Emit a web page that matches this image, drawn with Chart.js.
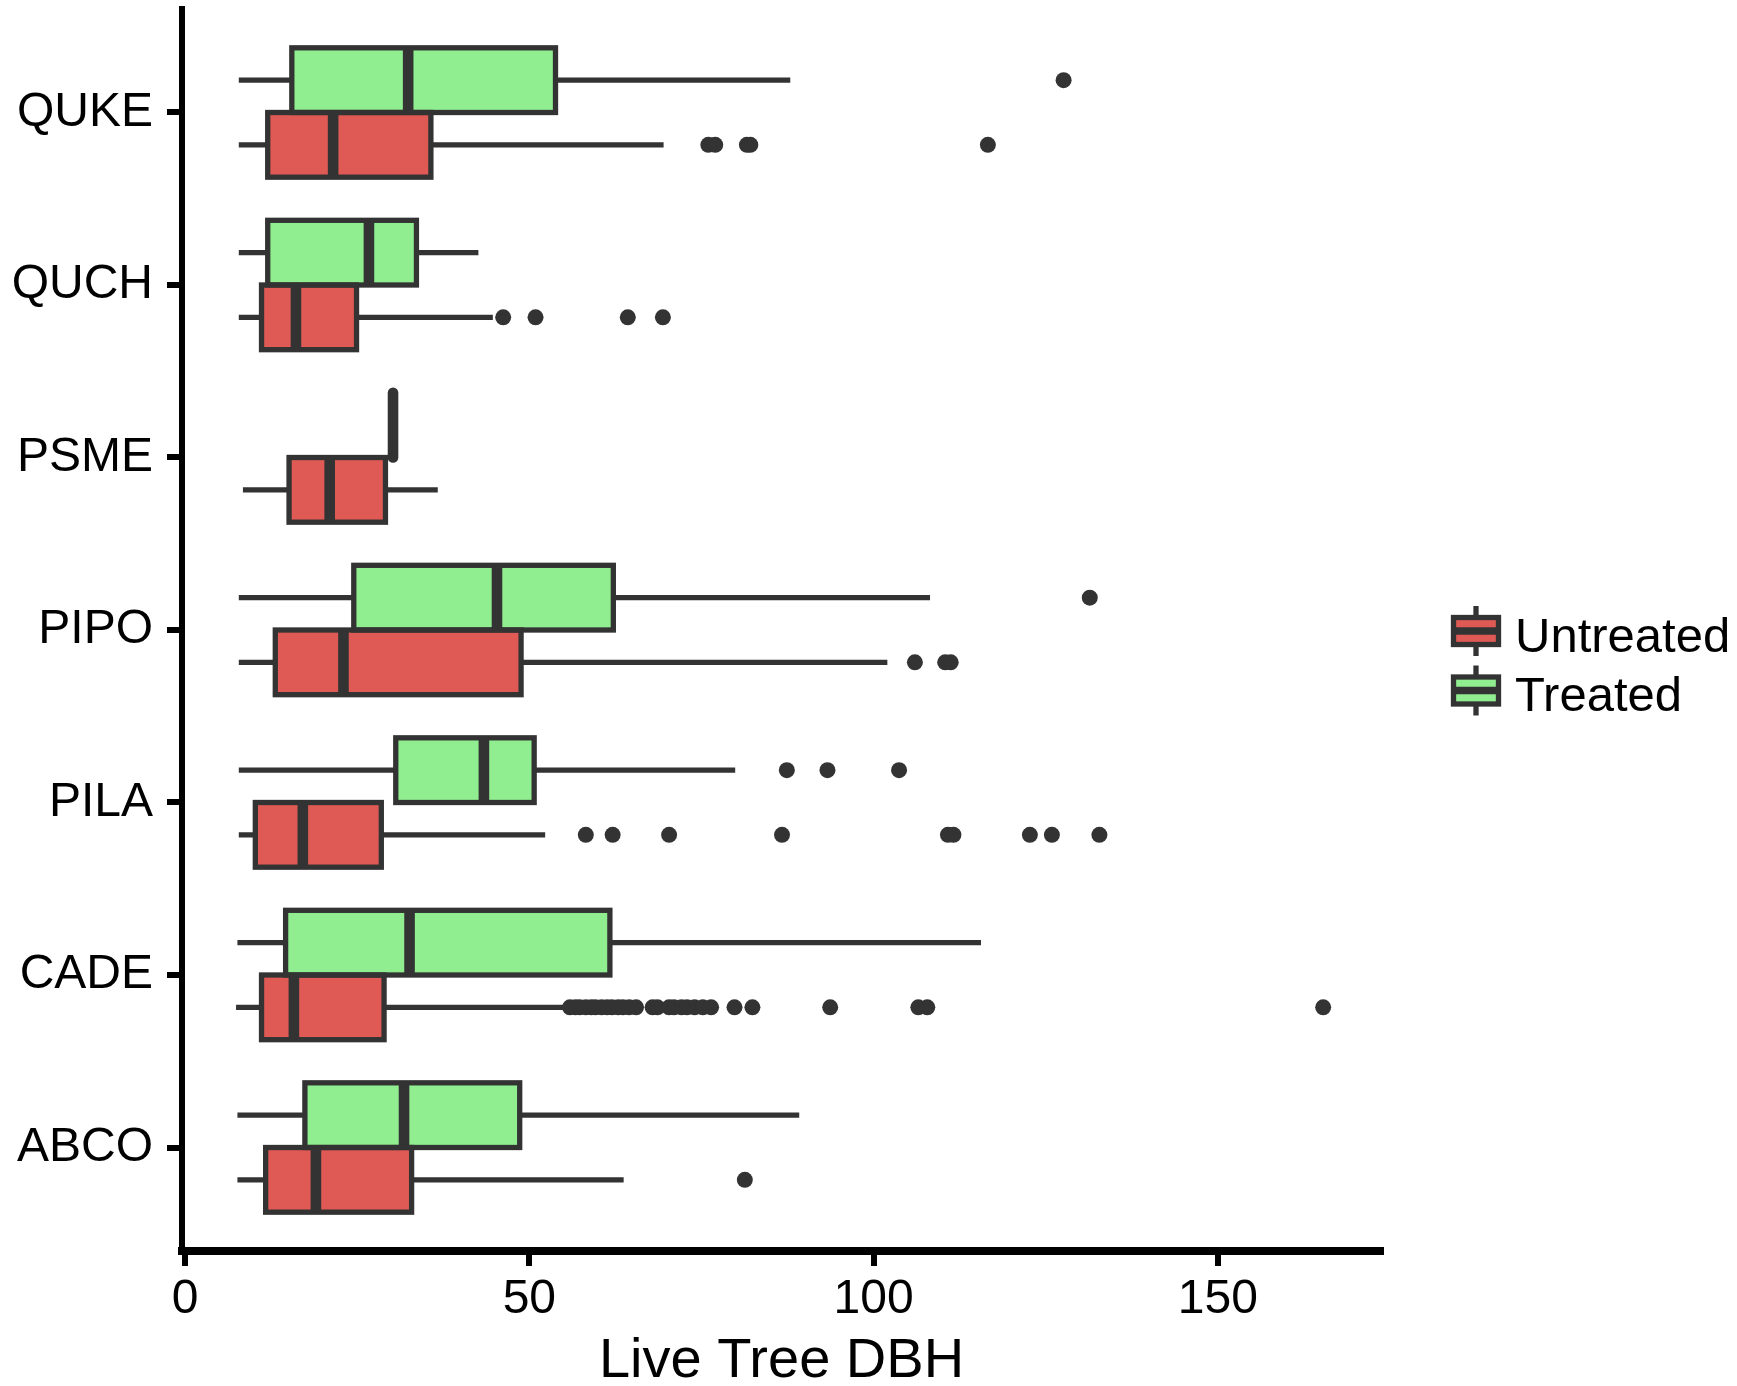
<!DOCTYPE html>
<html>
<head>
<meta charset="utf-8">
<title>Live Tree DBH</title>
<script src="https://cdn.jsdelivr.net/npm/chart.js@4.4.1/dist/chart.umd.min.js"></script>
<style>
  html, body { margin: 0; padding: 0; background: #fff; }
  #wrap { width: 1737px; height: 1386px; }
</style>
</head>
<body>
<div id="wrap"><canvas id="dbhChart" width="1737" height="1386"></canvas></div>
<script>
// species, top to bottom
const categories = ["QUKE", "QUCH", "PSME", "PIPO", "PILA", "CADE", "ABCO"];
const xTicks = [0, 50, 100, 150];

// Treated (green)
const treatedMin    = [7.8, 7.8, 30.2, 7.8, 7.8, 7.6, 7.6];
const treatedQ1     = [15.5, 12.0, 30.2, 24.5, 30.6, 14.6, 17.4];
const treatedMedian = [32.4, 26.7, 30.2, 45.3, 43.4, 32.6, 31.8];
const treatedQ3     = [53.8, 33.6, 30.2, 62.2, 50.7, 61.7, 48.6];
const treatedMax    = [87.9, 42.6, 30.2, 108.2, 79.9, 115.6, 89.2];
const treatedOutliers = [
  [127.6],
  [],
  [],
  [131.4],
  [87.4, 93.3, 103.7],
  [],
  []
];

// Untreated (red)
const untreatedMin    = [7.8, 7.8, 8.4, 7.8, 7.8, 7.4, 7.6];
const untreatedQ1     = [12.0, 11.1, 15.1, 13.1, 10.2, 11.1, 11.7];
const untreatedMedian = [21.5, 16.1, 21.0, 23.0, 17.1, 15.8, 19.0];
const untreatedQ3     = [35.7, 24.9, 29.1, 48.8, 28.5, 28.9, 32.9];
const untreatedMax    = [69.5, 44.7, 36.7, 102.0, 52.3, 55.4, 63.7];
const untreatedOutliers = [
  [76.0, 77.0, 81.6, 82.1, 116.6],
  [46.2, 50.9, 64.3, 69.4],
  [],
  [106.0, 110.4, 111.2],
  [58.2, 62.1, 70.3, 86.7, 110.8, 111.6, 122.7, 125.9, 132.8],
  [55.9, 56.7, 57.3, 58.2, 59.0, 59.6, 60.5, 61.3, 62.0, 62.9, 63.6, 64.5, 65.5,
   67.9, 68.6, 70.3, 71.0, 72.1, 72.9, 74.0, 75.2, 76.4, 79.8, 82.4, 93.7, 106.5, 107.8, 165.3],
  [81.3]
];

const treatedColor = "#90ee90";
const untreatedColor = "#e05a55";
const lineColor = "#333333";
const fontFamily = "'Liberation Sans', Arial, sans-serif";

const n = categories.length;
const pos = (i) => n - i;

function boxes(q1, q3) {
  return categories.map((c, i) => ({ x: [q1[i], q3[i]], y: pos(i) }));
}

const stats = [
  { min: treatedMin, med: treatedMedian, max: treatedMax, out: treatedOutliers },
  { min: untreatedMin, med: untreatedMedian, max: untreatedMax, out: untreatedOutliers },
];

// whiskers, box outline, median and outliers on top of the floating bars
const boxplotParts = {
  id: "boxplotParts",
  afterDatasetsDraw(chart) {
    const ctx = chart.ctx;
    const xs = chart.scales.x;
    const px = (v) => xs.getPixelForValue(v);
    chart.data.datasets.forEach((ds, d) => {
      const s = stats[d];
      chart.getDatasetMeta(d).data.forEach((bar, i) => {
        const yc = bar.y;
        const top = yc - bar.height / 2;
        const bottom = yc + bar.height / 2;
        const q1 = ds.data[i].x[0];
        const q3 = ds.data[i].x[1];
        ctx.save();
        ctx.strokeStyle = lineColor;
        ctx.fillStyle = lineColor;
        ctx.lineWidth = 5.3;
        ctx.beginPath();
        ctx.moveTo(px(s.min[i]), yc);
        ctx.lineTo(px(q1), yc);
        ctx.moveTo(px(q3), yc);
        ctx.lineTo(px(s.max[i]), yc);
        ctx.stroke();
        if (q3 > q1) {
          ctx.strokeRect(px(q1), top, px(q3) - px(q1), bottom - top);
        }
        ctx.lineWidth = 10.6;
        ctx.lineCap = q3 > q1 ? "butt" : "round";
        ctx.beginPath();
        ctx.moveTo(px(s.med[i]), top);
        ctx.lineTo(px(s.med[i]), bottom);
        ctx.stroke();
        s.out[i].forEach((v) => {
          ctx.beginPath();
          ctx.arc(px(v), yc, 8, 0, Math.PI * 2);
          ctx.fill();
        });
        ctx.restore();
      });
    });
  },
};

// legend with boxplot keys, Untreated first
const legendItems = [
  { label: "Untreated", color: untreatedColor },
  { label: "Treated", color: treatedColor },
];

const boxLegend = {
  id: "boxLegend",
  afterDraw(chart) {
    const ctx = chart.ctx;
    const area = chart.chartArea;
    const cx = area.right + 95;
    const y0 = (area.top + area.bottom) / 2 + 1;
    legendItems.forEach((item, k) => {
      const cy = y0 + k * 59.5;
      ctx.save();
      ctx.strokeStyle = lineColor;
      ctx.lineWidth = 5.3;
      ctx.beginPath();
      ctx.moveTo(cx, cy - 25);
      ctx.lineTo(cx, cy + 25);
      ctx.stroke();
      ctx.fillStyle = item.color;
      ctx.fillRect(cx - 22.5, cy - 13.5, 45, 27);
      ctx.strokeRect(cx - 22.5, cy - 13.5, 45, 27);
      ctx.lineWidth = 7.7;
      ctx.beginPath();
      ctx.moveTo(cx - 22.5, cy);
      ctx.lineTo(cx + 22.5, cy);
      ctx.stroke();
      ctx.fillStyle = "#000";
      ctx.font = "49px " + fontFamily;
      ctx.textAlign = "left";
      ctx.textBaseline = "alphabetic";
      ctx.fillText(item.label, cx + 39, cy + 20.5);
      ctx.restore();
    });
  },
};

const axisGrid = {
  display: true,
  offset: false,
  drawOnChartArea: false,
  drawTicks: true,
  tickLength: 15,
  tickWidth: 6,
  tickColor: "#000",
  lineWidth: 6,
  color: "#000",
};

const ctx = document.getElementById("dbhChart").getContext("2d");

const dbhChart = new Chart(ctx, {
  type: "bar",
  data: {
    datasets: [
      {
        label: "Treated",
        data: boxes(treatedQ1, treatedQ3),
        backgroundColor: treatedColor,
        borderWidth: 0,
      },
      {
        label: "Untreated",
        data: boxes(untreatedQ1, untreatedQ3),
        backgroundColor: untreatedColor,
        borderWidth: 0,
      },
    ],
  },
  options: {
    indexAxis: "y",
    responsive: false,
    animation: false,
    events: [],
    categoryPercentage: 0.75,
    barPercentage: 1,
    layout: { padding: { top: 9, right: 356, left: 0, bottom: 0 } },
    scales: {
      x: {
        type: "linear",
        min: -0.45,
        max: 173.7,
        afterBuildTicks: (scale) => {
          scale.ticks = xTicks.map((v) => ({ value: v }));
        },
        afterFit: (scale) => {
          scale.height = 135;
        },
        border: { display: true, color: "#000", width: 8 },
        grid: axisGrid,
        ticks: {
          color: "#000",
          font: { family: fontFamily, size: 48 },
          padding: 5,
          maxRotation: 0,
          autoSkip: false,
        },
        title: {
          display: true,
          text: "Live Tree DBH",
          color: "#000",
          font: { family: fontFamily, size: 56, lineHeight: 1 },
          padding: { top: 0, bottom: -4 },
        },
      },
      y: {
        type: "linear",
        offset: false,
        min: 0.4,
        max: n + 0.6,
        afterBuildTicks: (scale) => {
          scale.ticks = categories.map((c, i) => ({ value: pos(i) }));
        },
        afterFit: (scale) => {
          scale.width = 182;
          scale.paddingTop = 0;
          scale.paddingBottom = 0;
        },
        border: { display: true, color: "#000", width: 6 },
        grid: axisGrid,
        ticks: {
          callback: (value) => categories[n - value],
          color: "#000",
          font: { family: fontFamily, size: 48 },
          padding: 14,
          autoSkip: false,
        },
      },
    },
    plugins: {
      legend: { display: false },
      tooltip: { enabled: false },
    },
  },
  plugins: [boxplotParts, boxLegend],
});
</script>
</body>
</html>
